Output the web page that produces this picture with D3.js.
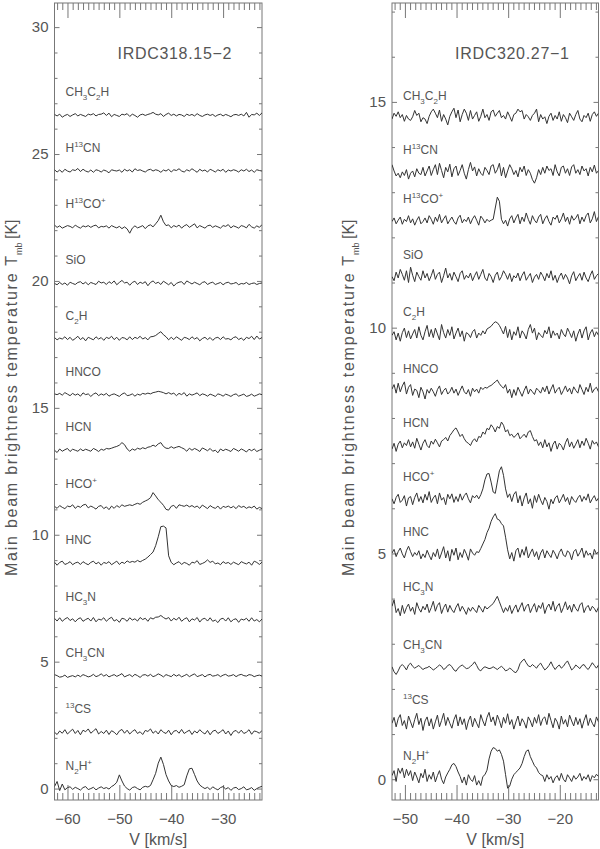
<!DOCTYPE html>
<html><head><meta charset="utf-8">
<script src="https://cdn.jsdelivr.net/npm/d3@7"></script>
<style>body{margin:0;background:#fff}svg{display:block}</style>
</head><body><svg id="c" width="600" height="849"></svg>
<script>
// ---------------- DATA ----------------
const molecules = ["N_2H^+","^{13}CS","CH_3CN","HC_3N","HNC","HCO^+","HCN","HNCO","C_2H","SiO","H^{13}CO^+","H^{13}CN","CH_3C_2H"];
const leftTitle = "IRDC318.15\u22122";
const rightTitle = "IRDC320.27\u22121";
const xTitle = "V [km/s]";
const yTitle = "Main beam brightness temperature T";
const yTitleSub = "mb";
const yTitleUnit = "[K]";
const leftXDomain = [-62.5, -22.5];
const leftYDomain = [-0.45, 30.95];
const rightXDomain = [-52.5, -12.5];
const rightYDomain = [-0.46, 17.19];
const leftXTicks = [-60, -50, -40, -30];
const rightXTicks = [-50, -40, -30, -20];
const leftYTicks = [0, 5, 10, 15, 20, 25, 30];
const rightYTicks = [0, 5, 10, 15];
// channel grids (first channel velocity, channel width in km/s)
const leftVelStart = -62.5, leftVelStep = 0.5;
const rightVelStart = -52.5, rightVelStep = 0.4;
// baseline offsets (K) of each spectrum, same order as molecules
const leftOffsets = [0, 2.22, 4.45, 6.64, 8.87, 11.08, 13.33, 15.5, 17.73, 19.9, 22.13, 24.33, 26.52];
const rightOffsets = [0, 1.24, 2.46, 3.75, 4.96, 6.18, 7.39, 8.58, 9.83, 11.1, 12.35, 13.42, 14.62];

// spectra, units of 0.01 K above each baseline
// IRDC318.15-2
const L_N2Hp = [8,28,-8,18,-5,4,7,-3,5,0, -6,4,8,-4,0,5,-5,2,7,0, 4,-2,8,14,25,54,30,10,0,-6, 4,7,0,-5,5,9,6,12,35,60, 100,124,95,55,30,12,8,12,5,9, 15,50,78,80,55,30,14,6,0,5, -4,7,0,-5,4,8,-2,4,-7,2, 5,-4,0,7,-5,-2,4,-7,0,5,9];
const L_13CS = [0,-9,5,-4,10,-7,3,12,-5,7, -10,8,2,13,-4,5,14,-7,3,-5, 8,-9,6,0,-10,5,11,-4,8,-7, 3,10,-5,2,-9,7,3,13,-4,5, -7,10,0,-5,8,-10,4,7,-4,11, -5,2,8,-9,5,-3,10,0,-7,7, -10,4,8,-5,2,10,-7,5,-13,3, 7,-4,8,-5,0,10,-8,5,2,-4,7];
const L_CH3CN = [4,0,-6,-4,2,-7,-3,0,-5,2, -4,4,0,-5,-2,5,-4,0,7,-2, 4,-5,0,4,-3,2,8,-5,0,4, -4,5,0,-7,2,4,-2,5,-4,0, 7,2,-5,4,0,-4,5,-2,4,-5, 0,5,-4,2,7,-4,0,4,-5,2, 5,-2,0,4,-4,2,5,-2,0,4, -4,2,5,0,-2,4,2,-4,0,2,-2];
const L_HC3N = [7,-4,9,-5,4,10,-2,5,-7,4, 9,-5,2,7,-4,10,-7,4,0,9, -5,5,11,-4,2,-9,7,4,-5,9, 0,5,-4,10,2,7,-5,9,4,11, 12,18,10,4,10,-4,7,0,11,-5, 4,9,-7,5,0,10,-8,4,7,-4, 9,-5,0,-10,4,7,-4,9,-7,2, 5,-9,4,0,7,-5,9,-4,2,-7,4];
const L_HNC = [5,-7,4,9,-4,0,7,-5,2,5, -4,7,0,-5,4,9,-2,5,-7,4, 0,7,-5,2,9,-4,5,0,10,4, 8,5,12,6,12,17,25,35,45,70, 105,145,147,140,30,4,-5,2,7,-4, 4,0,-7,5,2,11,-4,0,5,14, 4,9,-2,2,-5,7,0,4,-4,5, 0,-5,7,2,-2,5,-7,9,4,-4,5];
const L_HCOp = [4,-4,7,0,-5,5,2,10,-4,5, 0,9,12,-2,5,0,-7,4,7,-5, 2,-9,5,-4,7,0,10,4,7,10, 7,12,16,12,20,25,30,38,58,45, 30,20,8,-8,-11,4,8,-4,10,7, 4,9,2,7,0,5,-4,9,2,-5, 7,0,-4,5,-7,4,0,5,-2,4, -5,7,0,4,-4,2,-2,5,-7,0,-5];
const L_HCN = [0,-9,5,-4,2,7,-5,4,0,-4, 5,-2,4,0,-4,7,2,-5,4,0, 7,5,8,12,15,20,30,22,5,-4, 5,0,8,4,10,6,12,14,20,15, 25,30,15,8,7,14,8,12,15,10, 5,-4,8,0,7,2,-5,9,4,-2, 7,-4,0,-10,5,-2,4,0,-5,7, 2,-4,5,0,-7,4,-2,5,-5,0,4];
const L_HNCO = [5,2,7,0,10,4,-2,7,0,5, -4,9,2,5,-5,4,9,-2,5,0, 7,-4,2,5,0,-5,4,9,-2,0, 5,-4,4,0,7,4,8,5,10,12, 15,13,10,5,10,4,8,-2,7,2, 10,-4,5,0,4,9,-2,5,2,-4, 4,0,-5,5,2,-4,4,0,-5,2, 5,-4,0,4,-5,-2,4,-4,0,5,2];
const L_C2H = [4,-5,2,-2,7,-4,5,-7,0,9, -4,4,-9,5,0,-5,7,-2,4,-7, 5,0,9,-4,5,-7,4,2,-5,7, -4,5,0,9,-2,4,-5,7,8,12, 20,27,15,7,-5,5,-4,7,0,-7, 5,2,-4,7,-2,4,-9,0,5,-4, 4,-7,2,5,-4,7,-2,0,-5,4, 7,-4,2,-7,5,0,9,-4,10,-2,4];
const L_SiO = [0,-5,4,-4,2,-7,5,0,-4,4, 7,-2,5,-5,4,0,-4,9,2,5, -4,7,0,10,-5,4,12,2,5,-7, 4,9,-4,5,0,7,-9,4,10,0, 5,-4,9,2,-5,4,-10,0,5,7, -4,10,4,-2,5,0,-5,4,7,-4, 2,5,-4,0,4,-5,2,5,-2,0, 4,-5,0,-2,4,-4,0,2,-4,0,2];
const L_H13COp = [7,-2,4,-5,0,5,2,-4,7,0, -5,4,0,5,-2,4,7,-4,2,0, 4,-5,5,0,-4,2,-7,0,-8,-25, -5,4,-4,0,5,-7,4,8,0,12, 25,46,20,5,8,-4,5,0,7,-5, 4,9,-2,5,12,-4,5,0,-5,4, 7,-2,4,0,-5,5,2,9,-4,4, 0,-5,5,2,-4,10,0,-5,4,-2,9];
const L_H13CN = [5,-4,4,-5,7,0,-4,5,2,10, -2,7,0,-4,4,-5,5,2,-4,4, 0,-7,5,2,0,4,-5,7,0,5, -4,9,2,5,0,-4,4,7,0,5, 2,-5,4,0,7,-4,5,2,9,0, -4,5,0,9,2,-5,7,0,4,-4, 7,2,-4,5,0,7,-5,4,0,5, 2,-4,5,0,7,-2,4,-5,5,2,0];
const L_CH3C2H = [4,-2,5,-7,0,4,-4,2,7,-2, 4,0,-4,5,2,7,-2,4,5,10, 0,9,-5,4,0,-4,5,2,7,-4, 5,0,-7,2,5,0,4,7,12,5, 2,7,-4,4,9,0,5,-2,4,2, -4,5,0,4,-2,7,0,-4,2,5, 0,4,-4,2,5,-2,4,0,-5,2, 4,0,5,-2,12,-7,4,2,9,0,10];
// IRDC320.27-1
const R_N2Hp = [8,19,-5,24,13,25,3,22,8,19, -3,16,5,-8,13,3,22,-5,10,0, 16,-6,8,19,0,-10,5,14,22,32, 35,28,16,6,-8,5,-13,10,0,-5, 8,-13,-3,-14,6,10,20,45,62,70, 68,62,65,55,40,10,-20,-15,0,10, 15,20,25,35,50,62,65,50,40,30, 25,15,10,8,-5,10,0,6,-8,3, 8,-3,13,0,-6,10,3,-5,8,0, 5,13,-3,6,0,10,-5,8,3,11,6];
const R_13CS = [0,13,-8,10,19,-5,6,-13,16,3, -10,8,22,-3,11,-16,5,14,-6,10, -13,3,18,-8,6,22,-5,13,0,-11, 8,19,-6,14,-3,10,-14,5,16,-8, 11,0,-10,19,5,-6,13,24,3,14, -5,18,6,-10,13,0,21,-3,8,-13, 3,16,-6,10,2,-11,14,5,-8,13, 0,19,-5,10,14,-3,22,6,-10,11, 3,-13,16,-2,8,-8,18,5,-6,13, -3,10,-11,6,19,-5,11,0,-8,14,3];
const R_CH3CN = [3,-8,-14,-6,4,8,3,-4,7,11, 4,0,3,6,1,-3,0,1,4,0, -4,-1,3,7,4,-3,0,6,8,3, -4,-7,0,4,7,3,-1,0,4,8, 14,6,-3,-6,0,3,1,-1,0,3, 0,-3,1,4,0,-6,-4,0,-3,-8, -10,-3,10,16,20,12,5,3,8,4, 0,7,11,3,-4,0,6,14,4,-3, 3,7,0,4,11,16,6,-4,0,7, 3,-1,6,8,1,-3,4,12,6,0,7];
const R_HC3N = [8,22,-6,3,-13,10,-8,5,13,-3, 6,-10,16,3,-5,8,0,13,-6,5, 19,-3,10,16,-8,5,13,-5,10,0, -6,6,14,-3,8,0,-10,5,-3,6, 0,-6,10,3,-5,8,2,6,10,14, 22,30,18,6,-6,5,-3,10,-8,3, 11,-5,6,16,-3,8,13,-6,5,14, -5,10,3,16,-8,6,13,0,19,-3, 8,14,-6,5,18,0,10,-5,13,3, -3,11,16,-6,5,10,-2,8,3,-5,6];
const R_HNC = [5,13,-3,8,16,3,-6,10,20,8, -3,6,0,10,-8,3,-5,11,0,-10, 6,-3,14,-8,5,19,-6,10,-13,13, 0,16,-10,6,-5,13,3,-11,14,5, 0,8,6,15,25,35,50,60,75,85, 92,80,78,70,65,40,12,-8,6,-13, 10,16,-5,13,0,19,-6,5,14,-3, 8,-10,5,13,-6,10,2,-5,11,3, -8,6,14,0,-3,10,5,-10,8,13, -2,6,16,-5,10,0,5,-8,13,3,8];
const R_HCOp = [3,-8,6,13,-5,0,10,-13,5,8, -10,6,16,-3,8,-6,13,0,19,-5, 5,11,-8,16,0,6,-10,13,3,14, -5,8,-3,14,0,10,16,3,-6,10, 5,11,3,12,25,45,58,59,40,18, 15,40,65,74,55,25,6,14,-3,13, 19,-6,10,-13,5,16,-8,3,-18,10, -5,13,0,-10,6,-3,-20,2,-8,5, 10,-6,3,13,-3,6,-10,8,0,-5, 5,11,-3,8,0,14,-6,3,10,-2,5];
const R_HCN = [-8,5,-13,3,10,-5,6,0,13,-3, 8,-6,16,3,-10,5,13,0,-5,10, 3,14,6,-3,10,13,18,10,22,28, 35,39,30,20,25,15,8,5,0,10, 15,8,20,18,30,25,38,35,46,40, 30,42,38,52,45,30,35,22,25,18, 22,28,15,20,25,18,30,33,20,10, 13,0,8,-5,13,-3,6,-13,3,10, -8,5,0,-10,6,16,-3,8,-6,3, 13,-5,10,0,16,5,-8,11,3,8,-3];
const R_HNCO = [6,16,-3,19,0,13,22,-5,10,16, -8,6,3,-13,10,0,-16,5,-3,8, 0,-10,5,13,-6,3,8,-5,0,10, -3,6,-8,3,13,0,-5,5,-10,8, 0,6,-3,10,5,10,8,12,14,18, 22,26,18,12,8,16,-3,6,-13,5, -8,10,0,-10,3,13,-5,6,0,-6, 8,3,-3,10,0,13,-5,6,16,-3, 5,10,-6,3,13,0,8,-5,11,3, -3,16,5,-6,10,0,19,-2,6,10,0];
const R_C2H = [0,8,-10,5,-13,6,16,-5,10,-8, 3,13,-6,19,0,-10,8,22,-3,13, -5,16,3,-10,24,6,-6,13,0,19, -8,5,16,-3,10,-13,6,3,-5,8, 13,-6,5,0,10,3,14,17,20,26, 30,28,22,13,3,20,-5,13,-10,8, 0,19,-6,10,3,-8,13,24,5,16, -10,6,0,-5,11,3,19,-6,10,0, 5,-8,13,3,-3,16,6,-5,10,-13, 3,14,-6,10,19,-10,5,13,-3,8,0];
const R_SiO = [3,-6,13,0,19,8,-5,16,-10,24, 6,-8,13,3,-5,16,0,10,-6,5, 19,-3,8,13,-10,5,22,0,10,-5, 13,3,-8,10,16,-3,6,0,11,-6, 5,14,-3,8,19,0,-6,10,3,-10, 6,13,-5,3,16,8,-3,10,-8,5, 0,11,-6,6,14,-5,3,10,-10,2, 8,-3,13,5,-6,10,0,16,-5,6, -10,3,11,-3,8,0,-13,5,14,-6, 3,10,-5,13,0,-8,6,16,-3,5,10];
const R_H13COp = [0,8,-5,3,10,-6,5,0,13,-3, 6,-8,3,11,-5,0,8,-3,13,5, -6,10,0,16,-3,6,13,-5,3,10, 0,-6,8,14,-3,5,0,10,-5,6, 13,3,-8,12,6,-3,5,0,3,5, 30,54,45,5,-5,3,-10,6,13,-3, 8,16,-5,10,0,19,5,-6,13,3, -3,10,16,-5,6,13,0,-8,10,5, 14,-3,6,19,0,10,-6,13,3,8, 16,-5,10,0,13,19,-3,6,22,0,11];
const R_H13CN = [19,5,-6,0,-10,3,-5,8,-13,0, 5,-8,10,0,-3,13,-6,5,16,-5, 8,19,-3,22,6,-10,13,3,20,-8, 10,16,-5,6,19,0,-13,8,24,5, 14,-6,10,0,-5,13,6,-3,16,19, 0,8,22,-6,13,-10,5,19,10,-3, 6,-8,13,3,16,-5,8,0,-14,-22, -10,8,-3,13,0,16,6,10,-5,19, 3,-6,13,16,0,10,-5,14,19,0, 8,-3,16,5,10,-6,13,3,18,0,6];
const R_CH3C2H = [0,13,6,16,3,10,-5,8,0,-3, 5,19,8,13,-6,3,0,-10,6,16, 22,13,3,20,-5,10,0,-13,6,16, 24,3,20,-6,10,22,13,-3,19,0, 8,16,-5,6,22,3,10,-3,16,20, 6,13,19,3,8,0,16,6,-5,10, 13,22,16,19,0,10,5,-3,8,13, 22,-6,10,0,5,-10,6,13,-3,8, 0,16,-5,10,3,-8,13,5,-3,10, 19,0,-6,8,3,13,-5,10,16,6,13];

const leftSpectra = [L_N2Hp,L_13CS,L_CH3CN,L_HC3N,L_HNC,L_HCOp,L_HCN,L_HNCO,L_C2H,L_SiO,L_H13COp,L_H13CN,L_CH3C2H];
const rightSpectra = [R_N2Hp,R_13CS,R_CH3CN,R_HC3N,R_HNC,R_HCOp,R_HCN,R_HNCO,R_C2H,R_SiO,R_H13COp,R_H13CN,R_CH3C2H];

// ---------------- DRAWING ----------------
const svg = d3.select("#c");
const FONT = "'Liberation Sans', Arial, sans-serif";
const TXT = "#555";
const AX = "#777";

function addLabel(sel, str, x, y) {
  const t = sel.append("text").attr("x", x).attr("y", y)
    .attr("font-family", FONT).attr("font-size", 12).attr("fill", TXT);
  let i = 0, shift = 0;
  const parts = [];
  while (i < str.length) {
    const c = str[i];
    if (c === "_" || c === "^") {
      let s;
      if (str[i + 1] === "{") { const j = str.indexOf("}", i); s = str.slice(i + 2, j); i = j + 1; }
      else { s = str[i + 1]; i += 2; }
      parts.push({ s, mode: c === "_" ? 4 : -5 });
    } else {
      let j = i;
      while (j < str.length && str[j] !== "_" && str[j] !== "^") j++;
      parts.push({ s: str.slice(i, j), mode: 0 });
      i = j;
    }
  }
  parts.forEach(p => {
    t.append("tspan").attr("dy", p.mode - shift)
      .attr("font-size", p.mode === 0 ? 12 : 8).text(p.s);
    shift = p.mode;
  });
}

function panel(cfg) {
  const g = svg.append("g");
  const x = d3.scaleLinear().domain(cfg.xDomain).range([cfg.left, cfg.right]);
  const y = d3.scaleLinear().domain(cfg.yDomain).range([cfg.bottom, cfg.top]);

  const majorX = cfg.xTicks;
  const minorX = d3.range(Math.ceil(cfg.xDomain[0]), cfg.xDomain[1]).filter(v => v % 10 !== 0);
  const majorY = cfg.yTicks;
  const minorY = d3.range(Math.ceil(cfg.yDomain[0]), cfg.yDomain[1]).filter(v => v % 5 !== 0);

  function styleAxis(a) {
    a.select(".domain").remove();
    a.selectAll("line").attr("stroke", AX).attr("stroke-width", 1);
    a.selectAll("text").attr("font-family", FONT).attr("font-size", 15).attr("fill", TXT);
  }
  g.append("g").attr("transform", `translate(0,${cfg.bottom})`)
    .call(d3.axisBottom(x).tickValues(majorX).tickSize(-15).tickPadding(13)).call(styleAxis);
  g.append("g").attr("transform", `translate(0,${cfg.bottom})`)
    .call(d3.axisBottom(x).tickValues(minorX).tickSize(-7).tickFormat("")).call(styleAxis);
  g.append("g").attr("transform", `translate(0,${cfg.top})`)
    .call(d3.axisTop(x).tickValues(majorX).tickSize(-15).tickFormat("")).call(styleAxis);
  g.append("g").attr("transform", `translate(0,${cfg.top})`)
    .call(d3.axisTop(x).tickValues(minorX).tickSize(-7).tickFormat("")).call(styleAxis);
  g.append("g").attr("transform", `translate(${cfg.left},0)`)
    .call(d3.axisLeft(y).tickValues(majorY).tickSize(-5).tickPadding(6)).call(styleAxis);
  g.append("g").attr("transform", `translate(${cfg.left},0)`)
    .call(d3.axisLeft(y).tickValues(minorY).tickSize(-3).tickFormat("")).call(styleAxis);
  g.append("g").attr("transform", `translate(${cfg.right},0)`)
    .call(d3.axisRight(y).tickValues(majorY).tickSize(-5).tickFormat("")).call(styleAxis);
  g.append("g").attr("transform", `translate(${cfg.right},0)`)
    .call(d3.axisRight(y).tickValues(minorY).tickSize(-3).tickFormat("")).call(styleAxis);

  g.append("rect").attr("x", cfg.left).attr("y", cfg.top)
    .attr("width", cfg.right - cfg.left).attr("height", cfg.bottom - cfg.top)
    .attr("fill", "none").attr("stroke", AX).attr("stroke-width", 1);

  const clip = "clip" + cfg.id;
  g.append("clipPath").attr("id", clip).append("rect")
    .attr("x", cfg.left).attr("y", cfg.top).attr("width", cfg.right - cfg.left).attr("height", cfg.bottom - cfg.top);
  cfg.spectra.forEach((arr, k) => {
    const off = cfg.offsets[k];
    const line = d3.line()
      .x((d, i) => x(cfg.v0 + cfg.dv * i))
      .y(d => y(off + d / 100));
    g.append("path").attr("d", line(arr)).attr("fill", "none")
      .attr("stroke", "#333").attr("stroke-width", 1).attr("stroke-linejoin", "round")
      .attr("clip-path", `url(#${clip})`);
    addLabel(g, molecules[k], cfg.left + 11, y(off) - 19);
  });

  g.append("text").attr("x", cfg.left + 63).attr("y", 59)
    .attr("font-family", FONT).attr("font-size", 16).attr("fill", TXT)
    .attr("textLength", 114).attr("lengthAdjust", "spacing").text(cfg.title);

  g.append("text").attr("x", (cfg.left + cfg.right) / 2).attr("y", 845)
    .attr("text-anchor", "middle")
    .attr("font-family", FONT).attr("font-size", 16).attr("fill", TXT).text(xTitle);

  const yt = g.append("g").attr("transform", `translate(${cfg.left - 38},576) rotate(-90)`)
    .attr("font-family", FONT).attr("fill", TXT);
  yt.append("text").attr("x", 0).attr("y", 0).attr("font-size", 16)
    .attr("textLength", 320).attr("lengthAdjust", "spacing").text(yTitle);
  yt.append("text").attr("x", 321).attr("y", 5).attr("font-size", 9).text(yTitleSub);
  yt.append("text").attr("x", 337).attr("y", 0).attr("font-size", 16).text(yTitleUnit);
}

panel({ id: "L", left: 54.5, right: 262, top: 3, bottom: 800,
  xDomain: leftXDomain, yDomain: leftYDomain, xTicks: leftXTicks, yTicks: leftYTicks,
  spectra: leftSpectra, offsets: leftOffsets, v0: leftVelStart, dv: leftVelStep, title: leftTitle });
panel({ id: "R", left: 392, right: 598.5, top: 3, bottom: 800,
  xDomain: rightXDomain, yDomain: rightYDomain, xTicks: rightXTicks, yTicks: rightYTicks,
  spectra: rightSpectra, offsets: rightOffsets, v0: rightVelStart, dv: rightVelStep, title: rightTitle });
</script></body></html>
